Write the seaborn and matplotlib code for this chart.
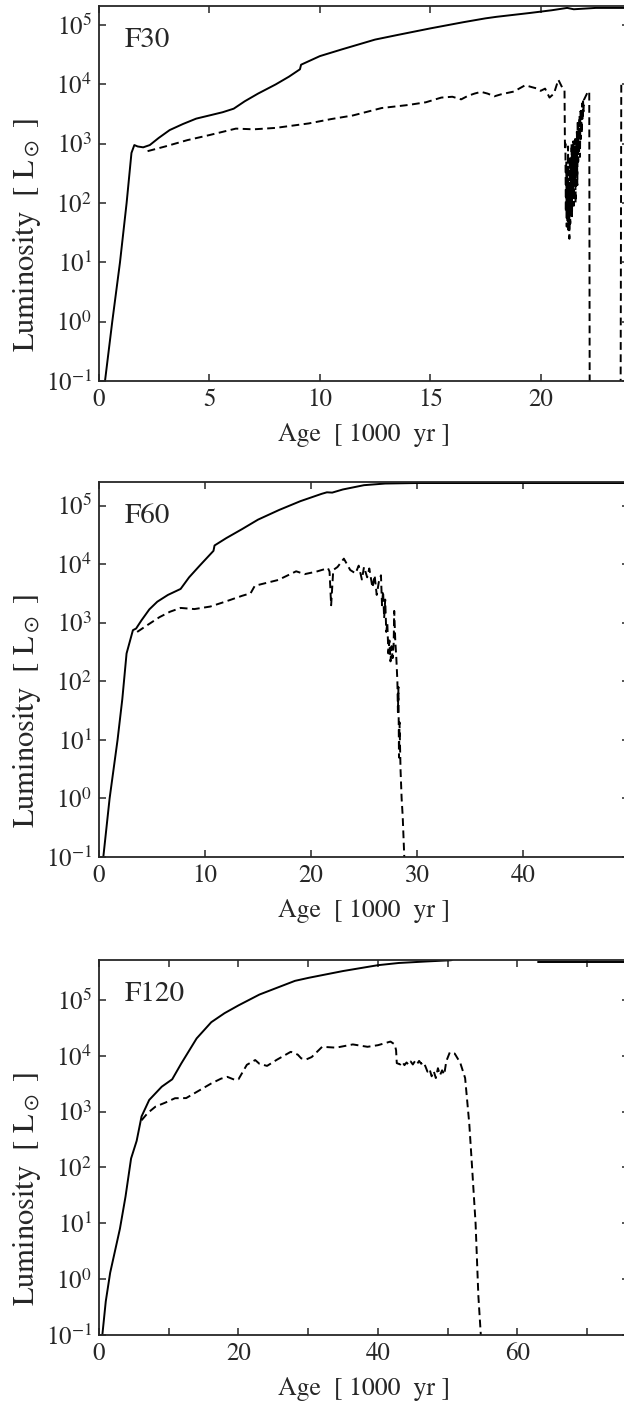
import numpy as np
import pandas as pd
import matplotlib
matplotlib.use("Agg")
import matplotlib.pyplot as plt
import seaborn as sns
from matplotlib.ticker import NullLocator, FixedLocator, FixedFormatter

# ---------------- data (age in 1000 yr, luminosity in L_sun) ----------------
f30_solid_age = [0.24, 0.6, 0.95, 1.25, 1.47, 1.6, 1.75, 2.0, 2.3, 2.7, 3.2, 3.8, 4.4, 5.0,
                 5.6, 6.1, 6.6, 7.2, 8.0, 8.6, 9.1, 9.15, 10.0, 11.0, 12.5, 13.5, 15.0,
                 16.5, 17.5, 18.0, 19.5, 20.5, 21.2, 21.5, 22.0, 22.5, 24.0]
f30_solid_lum = [0.08, 1.0, 10, 100, 700, 950, 900, 870, 950, 1250, 1700, 2150, 2650, 3000,
                 3400, 3900, 5200, 7000, 10000, 13500, 18000, 21500, 30000, 39000, 57000,
                 68000, 88000, 112000, 130000, 138000, 160000, 178000, 195000, 185000,
                 190000, 195000, 195000]

f30_dash_age = [2.2, 3.0, 4.0, 5.0, 6.2, 7.0, 8.0, 9.5, 10.5, 11.5, 12.8, 14.0, 14.8, 15.5,
                16.0, 16.4, 16.7, 17.0, 17.3, 17.6, 17.9, 18.2, 18.5, 18.8, 19.0, 19.3,
                19.6, 19.8, 20.0, 20.2, 20.4, 20.6, 20.8, 21.0, 21.08,
                21.10, 21.12, 21.14, 21.16, 21.18, 21.20, 21.22, 21.24, 21.26, 21.28, 21.30,
                21.32, 21.34, 21.36, 21.38, 21.40, 21.42, 21.44, 21.46, 21.48, 21.50, 21.52,
                21.54, 21.56, 21.58, 21.60, 21.62, 21.64, 21.66, 21.68, 21.70, 21.72, 21.74,
                21.76, 21.78, 21.80, 21.82, 21.84, 21.86, 21.88, 21.90, 21.92, 21.94, 21.96,
                22.15, 22.2, 22.22]
f30_dash_lum = [750, 900, 1150, 1400, 1800, 1750, 1850, 2200, 2600, 3000, 4000, 4500, 5000,
                6000, 6200, 5600, 6400, 7000, 7500, 7000, 6300, 6800, 7200, 7600, 8400,
                9700, 9000, 8600, 7800, 8500, 6000, 7000, 12000, 8500, 8000,
                800, 1000, 70, 500, 40, 300, 50, 900, 35, 200, 25, 600, 45, 400, 80, 1000,
                60, 700, 120, 1100, 90, 600, 200, 1200, 100, 900, 300, 1600, 200, 2500, 500,
                1800, 700, 3000, 600, 3500, 1200, 4000, 1500, 4800, 2500, 5200, 3500, 5500,
                7700, 7500, 0.05]
f30_dash2_age = [23.62, 23.65, 24.5]
f30_dash2_lum = [0.05, 10000, 10000]

f60_solid_age = [0.35, 1.0, 1.75, 2.2, 2.6, 3.2, 3.5, 4.0, 4.75, 5.5, 6.5, 7.7, 8.5, 9.5,
                 10.8, 10.9, 12.0, 13.5, 15.0, 17.0, 19.0, 21.0, 21.5, 22.0, 23.0, 25.0,
                 27.0, 30.0, 50.0]
f60_solid_lum = [0.08, 1.0, 10, 50, 300, 750, 800, 1100, 1700, 2300, 3000, 3800, 6000, 9500,
                 17000, 21000, 28000, 40000, 58000, 85000, 120000, 160000, 170000, 168000,
                 190000, 225000, 240000, 245000, 245000]

f60_dash_age = [3.6, 4.5, 5.7, 6.7, 7.7, 9.0, 10.5, 11.9, 13.5, 14.3, 14.7, 16.9, 18.6, 19.4,
                20.5, 21.6, 21.75, 21.9, 22.1, 22.5, 23.1, 23.7, 24.2, 24.5, 24.8, 25.0,
                25.3, 25.5, 25.8, 26.0, 26.2, 26.4, 26.6, 26.7, 26.8, 26.9, 27.0, 27.1,
                27.2, 27.3, 27.4, 27.5, 27.6, 27.7, 27.8, 27.85, 27.95, 28.05, 28.15, 28.2,
                28.25, 28.3, 28.35, 28.45, 28.55, 28.65, 28.8, 28.9]
f60_dash_lum = [700, 900, 1250, 1550, 1800, 1720, 1900, 2300, 2900, 3200, 4300, 5400, 7600,
                6800, 7500, 8600, 7500, 2000, 8000, 9000, 12500, 8000, 7000, 9500, 5500,
                9000, 6000, 8500, 4000, 6500, 3000, 5000, 6500, 2000, 3500, 1200, 2500, 700,
                1000, 300, 500, 220, 400, 250, 450, 1600, 500, 250, 100, 30, 80, 5, 20, 3,
                1.0, 0.5, 0.1, 0.04]

f120_solid_age = [0.4, 0.97, 1.6, 3.0, 3.8, 4.6, 5.4, 6.1, 7.2, 9.0, 10.5, 11.8, 14.0, 16.1,
                  18.0, 20.0, 23.0, 25.5, 28.1, 30.1, 35.0, 40.0, 43.0, 47.0, 50.5, 51.0,
                  62.8]
f120_solid_lum = [0.08, 0.4, 1.3, 8, 30, 145, 300, 820, 1620, 2800, 3800, 7300, 20500, 40000,
                  58000, 80000, 125000, 165000, 220000, 250000, 330000, 420000, 460000,
                  490000, 515000, 560000, 560000]
f120_solid2_age = [62.9, 76.0]
f120_solid2_lum = [470000, 470000]

f120_dash_age = [6.1, 7.0, 8.1, 9.5, 10.9, 12.5, 14.1, 16.1, 17.5, 18.4, 19.5, 20.0, 21.2,
                 22.4, 23.0, 24.1, 25.5, 27.5, 28.5, 29.0, 29.7, 30.5, 32.0, 34.0, 36.4,
                 38.5, 40.0, 41.8, 42.4, 42.6, 42.7, 43.2, 43.5, 43.8, 44.1, 44.4, 44.7,
                 45.0, 45.3, 45.6, 45.9, 46.2, 46.5, 46.8, 47.1, 47.4, 47.7, 48.0, 48.3,
                 48.6, 48.9, 49.2, 49.5, 49.8, 50.3, 51.0, 51.8, 52.5, 53.1, 53.5, 54.0,
                 54.4, 54.8]
f120_dash_lum = [700, 950, 1230, 1450, 1740, 1750, 2290, 3200, 3900, 4200, 3700, 3800, 6900,
                 8400, 7200, 6600, 8500, 11800, 10500, 9000, 8600, 9500, 14500, 14000, 16000,
                 14500, 15500, 18000, 16000, 12600, 7400, 7000, 7800, 6800, 7600, 6900, 7900,
                 7000, 8000, 7100, 8100, 7200, 7700, 6500, 5200, 5800, 4300, 5300, 4000,
                 6000, 4500, 5500, 4600, 8000, 11500, 11000, 7500, 4000, 600, 100, 10, 0.5,
                 0.08]

panel_names = ["F30", "F60", "F120"]
xlims = [24, 50, 76]
ylims_top = [2.1e5, 2.55e5, 5.2e5]
xtick_vals = [[0, 5, 10, 15, 20], [0, 10, 20, 30, 40], [0, 10, 20, 30, 40, 50, 60, 70]]
xtick_labels = [["0", "5", "10", "15", "20"], ["0", "10", "20", "30", "40"],
                ["0", "", "20", "", "40", "", "60", ""]]
ytick_vals = [0.1, 1, 10, 100, 1e3, 1e4, 1e5]
ytick_labels = ["$10^{-1}$", "$10^{0}$", "$10^{1}$", "$10^{2}$", "$10^{3}$", "$10^{4}$",
                "$10^{5}$"]

# ---------------- style ----------------
sns.set_style("ticks")
plt.rcParams["font.family"] = ["STIXGeneral", "DejaVu Serif"]
plt.rcParams["mathtext.fontset"] = "stix"
plt.rcParams["xtick.direction"] = "in"
plt.rcParams["ytick.direction"] = "in"
plt.rcParams["xtick.top"] = True
plt.rcParams["ytick.right"] = True

fig = plt.figure(figsize=(6.24, 14.04), dpi=100)
left, width, height = 99 / 624, 530 / 624, 375 / 1404
bottoms = [1 - 381 / 1404, 1 - 857 / 1404, 1 - 1335 / 1404]

solid_sets = [
    [(f30_solid_age, f30_solid_lum)],
    [(f60_solid_age, f60_solid_lum)],
    [(f120_solid_age, f120_solid_lum), (f120_solid2_age, f120_solid2_lum)],
]
dash_sets = [
    [(f30_dash_age, f30_dash_lum), (f30_dash2_age, f30_dash2_lum)],
    [(f60_dash_age, f60_dash_lum)],
    [(f120_dash_age, f120_dash_lum)],
]

LW = 1.4
for i in range(3):
    ax = fig.add_axes([left, bottoms[i], width, height])
    for xs, ys in solid_sets[i]:
        df = pd.DataFrame({"age": xs, "lum": ys})
        sns.lineplot(data=df, x="age", y="lum", ax=ax, sort=False, estimator=None,
                     color="black", lw=LW)
    for xs, ys in dash_sets[i]:
        df = pd.DataFrame({"age": xs, "lum": ys})
        sns.lineplot(data=df, x="age", y="lum", ax=ax, sort=False, estimator=None,
                     color="black", lw=LW)
        ax.lines[-1].set_dashes([4.0, 2.3])
    ax.set_yscale("log")
    ax.set_xlim(0, xlims[i])
    ax.set_ylim(0.1, ylims_top[i])
    ax.yaxis.set_major_locator(FixedLocator(ytick_vals))
    ax.yaxis.set_major_formatter(FixedFormatter(ytick_labels))
    ax.yaxis.set_minor_locator(NullLocator())
    ax.xaxis.set_major_locator(FixedLocator(xtick_vals[i]))
    ax.xaxis.set_major_formatter(FixedFormatter(xtick_labels[i]))
    ax.xaxis.set_minor_locator(NullLocator())
    ax.tick_params(which="major", length=5, width=1.1, labelsize=18, pad=5,
                   top=True, right=True, direction="in")
    for sp in ax.spines.values():
        sp.set_linewidth(1.3)
        sp.set_visible(True)
    ax.set_xlabel("Age  [ 1000  yr ]", fontsize=18.5, labelpad=8)
    ax.set_ylabel("Luminosity  [ L$_\\odot$ ]", fontsize=22)
    ax.yaxis.set_label_coords(-0.105, 0.39)
    ax.text(0.049, 0.89, panel_names[i], transform=ax.transAxes, fontsize=21,
            ha="left", va="baseline")

fig.savefig("out.png", dpi=100)
